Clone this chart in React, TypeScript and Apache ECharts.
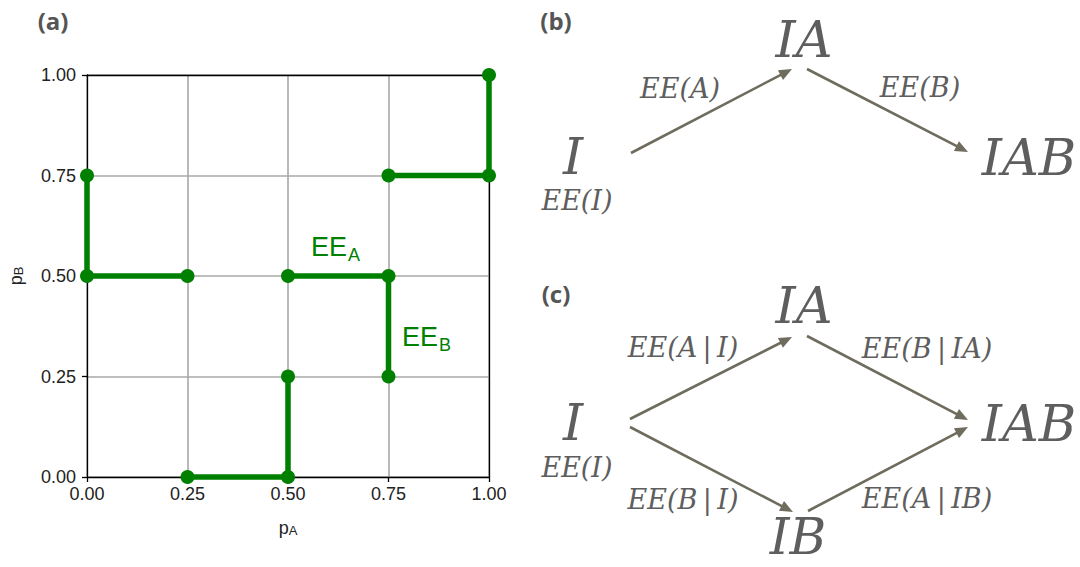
import React, { useEffect, useRef } from "react";
import * as echarts from "echarts";

// ---- Panel (a) data ----
const tickValues = [0, 0.25, 0.5, 0.75, 1];
const pathSegments: number[][][] = [
  [[0.25, 0], [0.5, 0], [0.5, 0.25]],
  [[0.5, 0.5], [0.75, 0.5], [0.75, 0.25]],
  [[0.25, 0.5], [0, 0.5], [0, 0.75]],
  [[0.75, 0.75], [1, 0.75], [1, 1]],
];
const xName = ["p", "A"];
const yName = ["p", "B"];
const stepLabels = [
  ["EE", "A"],
  ["EE", "B"],
];
const panelLabels = ["(a)", "(b)", "(c)"];

// ---- Panels (b) and (c): diagram texts ----
const bNodes = ["IA", "I", "IAB"];
const bEdgeLabels = ["EE(I)", "EE(A)", "EE(B)"];
const cNodes = ["IA", "I", "IAB", "IB"];
const cEdgeLabels: string[][] = [
  ["EE(I)", "", ""],
  ["EE(A", "|", "I)"],
  ["EE(B", "|", "IA)"],
  ["EE(B", "|", "I)"],
  ["EE(A", "|", "IB)"],
];

const GREEN = "#008000";
const TXT = "#5e5e5e";
const ARROW = "#6f6c5e";
const SERIF = "DejaVu Serif";
const SANS = "Liberation Sans";

function arrow(x1: number, y1: number, x2: number, y2: number): any[] {
  const dx = x2 - x1;
  const dy = y2 - y1;
  const L = Math.hypot(dx, dy);
  const ux = dx / L;
  const uy = dy / L;
  const hl = 13;
  const hw = 5.5;
  const bx = x2 - ux * hl;
  const by = y2 - uy * hl;
  const nx = -uy;
  const ny = ux;
  return [
    {
      type: "line",
      shape: { x1, y1, x2: bx + ux * 2, y2: by + uy * 2 },
      style: { stroke: ARROW, lineWidth: 2.6 },
      z: 10,
    },
    {
      type: "polygon",
      shape: {
        points: [
          [x2, y2],
          [bx + nx * hw, by + ny * hw],
          [bx - nx * hw, by - ny * hw],
        ],
      },
      style: { fill: ARROW },
      z: 10,
    },
  ];
}

function bigText(t: string, x: number, y: number, size = 51): any {
  return {
    type: "text",
    x,
    y,
    z: 10,
    style: {
      text: t,
      fontFamily: SERIF,
      fontStyle: "italic",
      fontSize: size,
      fill: TXT,
      align: "center",
      verticalAlign: "middle",
    },
  };
}

function smallText(parts: string[], x: number, y: number): any {
  const txt = parts[1]
    ? `{i|${parts[0]}}{u|\u2009${parts[1]}\u2009}{i|${parts[2]}}`
    : `{i|${parts[0]}}`;
  return {
    type: "text",
    x,
    y,
    z: 10,
    style: {
      text: txt,
      fill: TXT,
      fontFamily: SERIF,
      fontSize: 27,
      align: "center",
      verticalAlign: "middle",
      rich: {
        i: { fontFamily: SERIF, fontStyle: "italic", fontSize: 27, fill: TXT },
        u: { fontFamily: SERIF, fontSize: 27, fill: TXT },
      },
    },
  };
}

function panelLabel(t: string, x: number, y: number): any {
  return {
    type: "text",
    x,
    y,
    z: 10,
    style: {
      text: t,
      fontFamily: "Open Sans",
      fontWeight: "bold",
      fontSize: 24,
      fill: "#555555",
      align: "center",
      verticalAlign: "middle",
    },
  };
}

function subText(main: string, sub: string, x: number, baseline: number): any[] {
  const fs = 27;
  const sfs = 18;
  return [
    {
      type: "text",
      x,
      y: baseline - 0.35 * fs,
      z: 10,
      style: {
        text: main,
        fontFamily: SANS,
        fontSize: fs,
        fill: GREEN,
        align: "left",
        verticalAlign: "middle",
      },
    },
    {
      type: "text",
      x: x + 1.334 * fs + 1,
      y: baseline + 5 - 0.35 * sfs,
      z: 10,
      style: {
        text: sub,
        fontFamily: SANS,
        fontSize: sfs,
        fill: GREEN,
        align: "left",
        verticalAlign: "middle",
      },
    },
  ];
}

export default function App() {
  const ref = useRef<HTMLDivElement>(null);
  useEffect(() => {
    if (!ref.current) return;
    const chart = echarts.init(ref.current, null, { renderer: "svg" });

    const graphics: any[] = [
      panelLabel(panelLabels[0], 53, 20),
      panelLabel(panelLabels[1], 556, 20),
      panelLabel(panelLabels[2], 556, 293),
      ...subText(stepLabels[0][0], stepLabels[0][1], 311, 256),
      ...subText(stepLabels[1][0], stepLabels[1][1], 402, 346),
      // panel (b)
      bigText(bNodes[0], 804, 39),
      bigText(bNodes[1], 573, 156),
      bigText(bNodes[2], 1029, 157),
      smallText([bEdgeLabels[0]], 577, 200),
      smallText([bEdgeLabels[1]], 680, 88),
      smallText([bEdgeLabels[2]], 920, 87),
      ...arrow(631, 153, 792, 69),
      ...arrow(807, 69, 968, 152),
      // panel (c)
      bigText(cNodes[0], 804, 305),
      bigText(cNodes[1], 573, 422),
      bigText(cNodes[2], 1029, 423),
      bigText(cNodes[3], 798, 537, 50),
      smallText(cEdgeLabels[0], 577, 467),
      smallText(cEdgeLabels[1], 683, 347),
      smallText(cEdgeLabels[2], 927, 348),
      smallText(cEdgeLabels[3], 683, 499),
      smallText(cEdgeLabels[4], 927, 498),
      ...arrow(630, 419, 792, 337),
      ...arrow(807, 336, 968, 420),
      ...arrow(630, 427, 793, 512),
      ...arrow(808, 511, 968, 427),
    ];

    const axisCommon = {
      type: "value",
      min: tickValues[0],
      max: tickValues[tickValues.length - 1],
      interval: tickValues[1] - tickValues[0],
    };

    chart.setOption({
      animation: false,
      backgroundColor: "#ffffff",
      grid: { left: 87, right: 591, top: 75, bottom: 90, containLabel: false },
      xAxis: [
        {
          ...axisCommon,
          position: "bottom",
          name: `{a|${xName[0]}}{b|${xName[1]}}`,
          nameLocation: "middle",
          nameGap: 42,
          nameTextStyle: {
            rich: {
              a: { fontFamily: SANS, fontSize: 18, color: "#222" },
              b: { fontFamily: SANS, fontSize: 13, color: "#222", verticalAlign: "bottom" },
            },
          },
          axisLine: { show: true, lineStyle: { color: "#000", width: 1.3 } },
          axisTick: { show: true, inside: false, length: 5, lineStyle: { color: "#000", width: 1.3 } },
          axisLabel: {
            fontFamily: SANS,
            fontSize: 18,
            color: "#222",
            margin: 8,
            formatter: (v: number) => v.toFixed(2),
          },
          splitLine: { show: true, lineStyle: { color: "#a8a8a8", width: 1.6 } },
        },
        {
          ...axisCommon,
          position: "top",
          axisLine: { show: true, onZero: false, lineStyle: { color: "#000", width: 1.3 } },
          axisTick: { show: false },
          axisLabel: { show: false },
          splitLine: { show: false },
        },
      ],
      yAxis: [
        {
          ...axisCommon,
          position: "left",
          name: `{a|${yName[0]}}{b|${yName[1]}}`,
          nameLocation: "middle",
          nameGap: 62,
          nameTextStyle: {
            rich: {
              a: { fontFamily: SANS, fontSize: 18, color: "#222" },
              b: { fontFamily: SANS, fontSize: 13, color: "#222", verticalAlign: "bottom" },
            },
          },
          axisLine: { show: true, onZero: false, lineStyle: { color: "#000", width: 1.3 } },
          axisTick: { show: true, inside: false, length: 5, lineStyle: { color: "#000", width: 1.3 } },
          axisLabel: {
            fontFamily: SANS,
            fontSize: 18,
            color: "#222",
            margin: 11,
            formatter: (v: number) => v.toFixed(2),
          },
          splitLine: { show: true, lineStyle: { color: "#a8a8a8", width: 1.6 } },
        },
        {
          ...axisCommon,
          position: "right",
          axisLine: { show: true, onZero: false, lineStyle: { color: "#000", width: 1.3 } },
          axisTick: { show: false },
          axisLabel: { show: false },
          splitLine: { show: false },
        },
      ],
      series: pathSegments.map((seg) => ({
        type: "line",
        xAxisIndex: 0,
        yAxisIndex: 0,
        data: seg,
        clip: false,
        symbol: "circle",
        symbolSize: 14,
        showSymbol: true,
        lineStyle: { color: GREEN, width: 5.5 },
        itemStyle: { color: GREEN },
        z: 5,
      })),
      graphic: graphics,
    });

    return () => chart.dispose();
  }, []);

  return (
    <div
      ref={ref}
      style={{ position: "absolute", left: 0, top: 0, width: 1080, height: 567, background: "#fff" }}
    />
  );
}
